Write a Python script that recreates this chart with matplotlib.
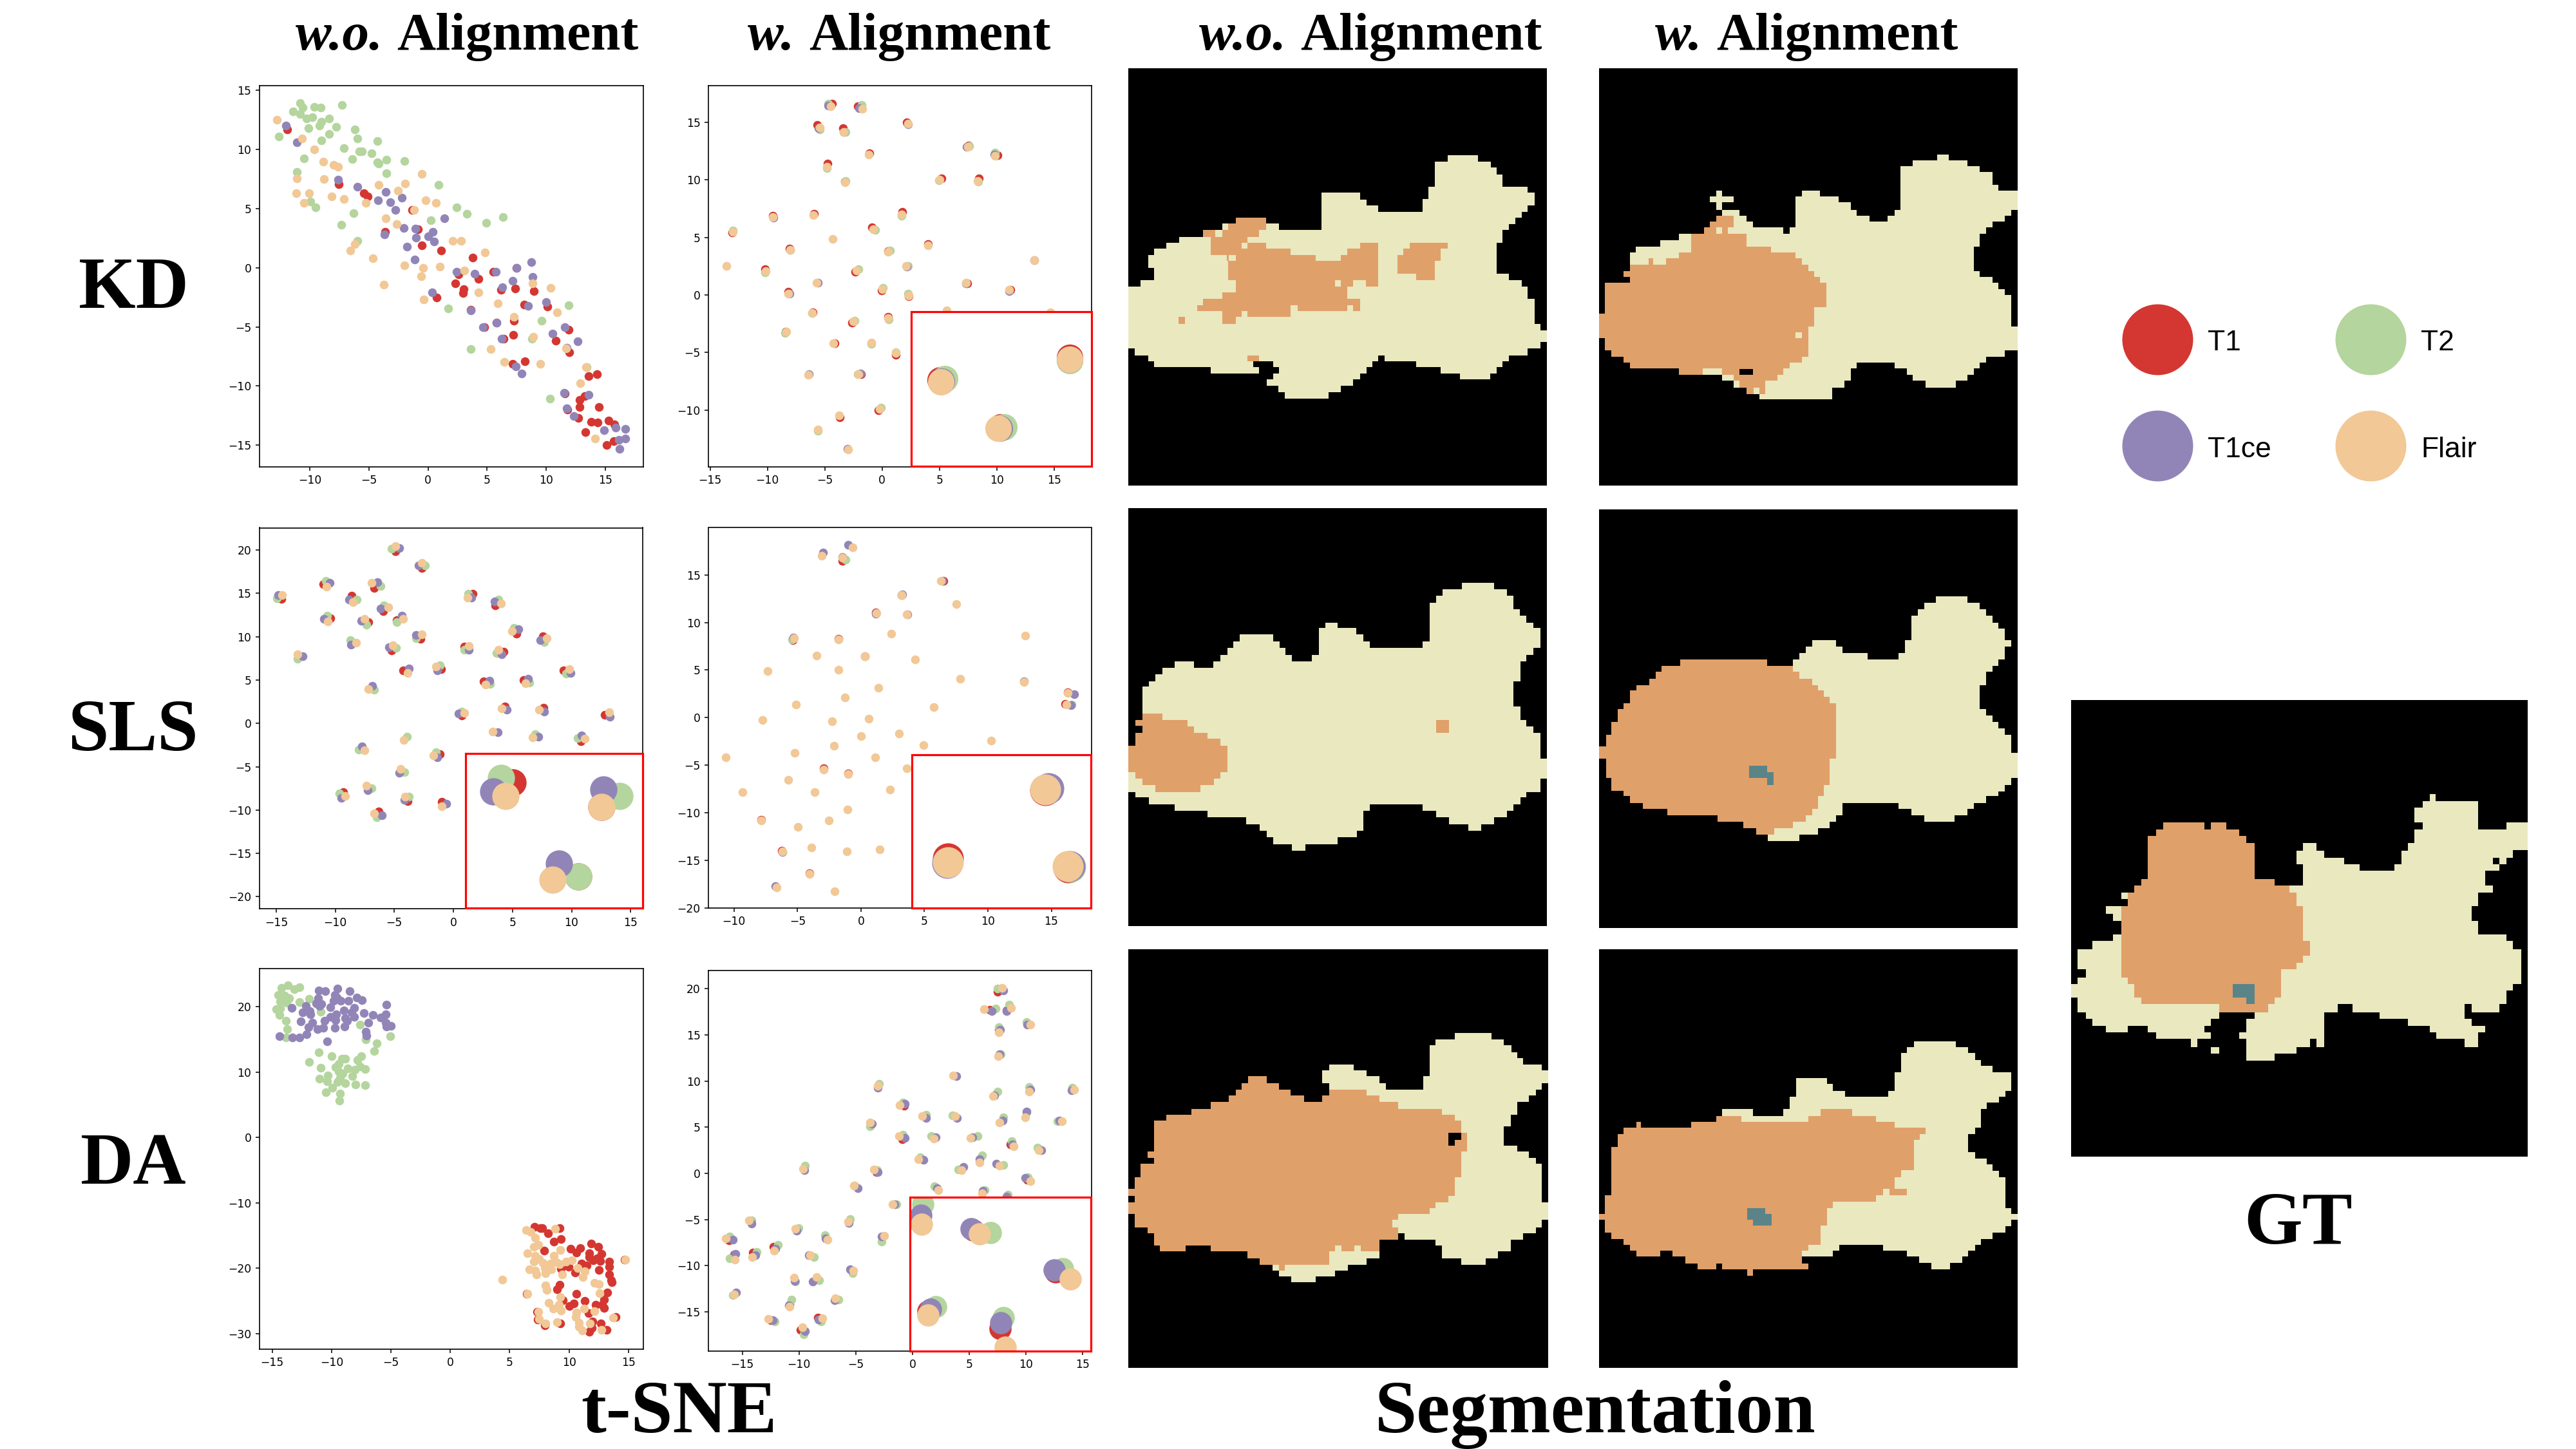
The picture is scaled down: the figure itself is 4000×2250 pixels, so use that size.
import matplotlib
matplotlib.use("Agg")
import matplotlib.pyplot as plt
import numpy as np
from matplotlib.patches import Rectangle

RED = "#D43731"
GREEN = "#B4D59D"
PURPLE = "#9185B8"
PEACH = "#F1C896"
LIGHT = "#EAE8BF"
ORANGE = "#E0A06A"
TEAL = "#5A8488"

modalities = ["T1", "T2", "T1ce", "Flair"]
modality_colors = [RED, GREEN, PURPLE, PEACH]
methods = ["KD", "SLS", "DA"]

# t-SNE, KD without alignment
kd_wo_t1 = [(-11.9,11.7),(-7.55,7.05),(-5.45,6.3),(-5.1,6.0),(-1.35,4.85),(-0.85,3.25),(-3.65,3.0),(-0.55,1.9),(1.1,1.45),(3.8,0.85),(2.6,-0.55),(5.55,-0.35),(7.5,0.0),(4.3,-0.95),(2.3,-1.35),(3.0,-1.8),(2.95,-2.15),(0.75,-2.5),(6.2,-1.85),(7.4,-1.75),(8.95,-2.0),(8.15,-3.1),(10.1,-3.3),(3.6,-3.55),(4.75,-5.05),(5.8,-4.65),(7.25,-4.5),(6.4,-6.0),(7.2,-5.65),(11.9,-5.25),(10.8,-6.15),(11.95,-7.15),(7.15,-8.1),(8.2,-7.9),(13.6,-9.15),(14.3,-9.0),(11.55,-10.65),(13.25,-10.85),(12.85,-11.15),(12.85,-11.75),(14.45,-11.75),(11.8,-12.0),(12.7,-12.7),(13.8,-13.0),(14.35,-13.1),(15.3,-12.9),(15.8,-13.25),(13.3,-13.9),(15.7,-14.65),(15.1,-15.0)]
kd_wo_t2 = [(-10.8,13.9),(-11.4,13.2),(-10.8,13.0),(-10.6,13.5),(-9.6,13.6),(-9.1,13.5),(-7.3,13.75),(-10.3,12.6),(-9.8,12.7),(-8.4,12.6),(-9.0,12.3),(-9.2,12.0),(-10.1,11.8),(-7.8,11.9),(-8.4,11.3),(-9.0,10.75),(-12.6,11.05),(-6.2,11.7),(-6.0,10.9),(-4.3,10.7),(-7.1,10.1),(-5.8,9.8),(-5.6,9.8),(-4.8,9.65),(-10.5,9.2),(-6.4,9.15),(-3.5,9.1),(-4.3,8.9),(-4.2,8.8),(-2.0,9.0),(-11.1,8.1),(-3.5,8.0),(0.9,7.0),(-9.95,5.6),(-9.5,5.1),(-6.3,4.6),(2.4,5.1),(3.3,4.55),(6.35,4.3),(4.9,3.8),(0.25,4.0),(-7.35,3.65),(-6.0,2.25),(1.7,-3.45),(9.6,-4.5),(11.9,-3.2),(3.6,-6.85),(8.8,-6.0),(10.35,-11.05),(13.45,-8.4)]
kd_wo_t1ce = [(-12.0,12.0),(-11.1,10.6),(-7.6,7.45),(-5.95,6.85),(-3.6,6.4),(-4.25,5.7),(-3.2,5.55),(-2.2,5.9),(-2.75,4.9),(1.4,4.15),(-2.05,3.35),(-1.05,3.3),(0.4,3.0),(-3.7,2.8),(0.0,2.65),(-1.0,2.55),(0.5,2.2),(-1.8,1.8),(-1.15,0.7),(2.4,-0.35),(3.95,-0.5),(5.75,-0.35),(7.5,0.0),(8.75,0.45),(8.85,-0.8),(7.15,-1.1),(6.3,-1.65),(0.35,-2.1),(3.6,-3.6),(8.45,-3.25),(10.0,-2.9),(4.65,-5.05),(5.8,-4.65),(6.25,-6.0),(11.6,-5.0),(10.55,-5.55),(12.65,-6.2),(11.75,-6.75),(7.45,-8.35),(7.95,-8.95),(11.5,-10.55),(13.6,-10.75),(11.75,-11.9),(12.35,-12.55),(14.9,-13.7),(15.9,-13.5),(16.7,-13.6),(16.7,-14.45),(16.15,-14.55),(16.2,-15.3)]
kd_wo_flair = [(-12.8,12.5),(-10.65,10.9),(-9.65,10.0),(-8.85,8.95),(-8.0,8.7),(-7.6,8.5),(-8.8,7.5),(-11.1,7.55),(-11.15,6.3),(-10.05,6.3),(-10.5,5.45),(-8.15,6.0),(-7.1,5.8),(-5.25,5.45),(-4.2,7.0),(-2.55,6.5),(-1.95,7.1),(-0.5,7.9),(-0.2,5.7),(0.65,5.45),(-1.2,4.85),(-3.55,4.15),(-2.65,3.7),(-6.2,2.0),(-6.55,1.45),(-4.65,0.8),(-3.75,-1.45),(-2.0,0.2),(-0.4,0.0),(1.0,0.1),(-0.6,-0.75),(-0.35,-2.7),(2.1,2.25),(2.8,2.25),(4.8,1.3),(3.05,-0.25),(4.25,-2.1),(5.9,-3.0),(8.85,-1.3),(10.4,-1.7),(10.9,-3.8),(7.25,-4.15),(8.9,-5.85),(5.3,-6.85),(6.45,-7.95),(9.5,-8.1),(11.7,-6.8),(13.4,-8.4),(12.9,-9.75),(14.15,-14.45)]

# t-SNE, KD with alignment (points fully under Flair are left out)
kd_w_t1 = [(-4.37,16.6),(-2.12,16.4),(-5.65,14.76),(-3.42,14.46),(2.17,15.0),(7.53,12.98),(10.06,12.12),(-1.11,12.28),(-4.77,11.43),(5.17,10.1),(8.43,10.1),(-3.25,9.84),(-9.53,6.85),(-5.96,7.02),(1.74,7.19),(-13.05,5.4),(-0.89,5.86),(4.02,4.4),(-8.08,4.04),(0.49,3.78),(-10.2,2.25),(-2.32,2.0),(7.43,0.98),(-0.04,0.38),(11.21,0.46),(-8.18,0.26),(2.34,-0.13),(-6.03,-1.51),(-2.64,-2.38),(0.54,-1.9),(-8.43,-3.16),(-4.12,-4.2),(1.19,-5.22),(-1.87,-6.85),(-0.31,-9.98),(-3.7,-10.6)]
kd_w_t2 = [(-4.7,16.62),(-1.77,16.48),(-5.45,14.37),(-3.2,14.15),(7.6,12.91),(9.86,12.36),(-4.8,11.02),(4.97,9.97),(8.36,9.82),(-3.2,9.88),(1.72,6.85),(-13.02,5.59),(-0.61,5.64),(0.69,3.85),(-2.07,2.25),(2.24,2.54),(-10.19,1.94),(0.09,0.62),(2.27,0.09),(-6.13,-1.56),(-2.42,-2.22),(0.59,-2.12),(-8.46,-3.28),(-0.94,-4.25),(1.19,-5.0),(-2.12,-6.9),(-0.11,-9.76),(-5.6,-11.8)]
kd_w_t1ce = [(-4.72,16.45),(-2.02,16.19),(-5.53,14.47),(-3.35,14.13),(2.27,14.81),(7.38,12.84),(9.76,12.21),(-9.49,6.71),(-8.01,3.92),(-5.63,1.04),(-8.08,0.09),(2.17,2.47),(7.31,1.03),(11.09,0.36),(-1.92,-6.8),(-6.4,-6.9),(-3.0,-13.37),(13.25,3.02)]
kd_w_flair = [(-4.47,16.38),(-1.74,16.16),(-5.45,14.56),(-3.35,14.15),(2.27,14.88),(7.48,12.87),(9.81,12.05),(-1.17,12.18),(-4.8,11.12),(5.03,9.99),(8.33,9.92),(-3.22,9.76),(-9.51,6.78),(-5.98,6.95),(1.72,6.99),(-13.0,5.47),(-0.76,5.71),(-4.32,4.84),(4.0,4.33),(-8.03,3.94),(0.54,3.75),(13.25,3.0),(-13.6,2.49),(-10.16,2.05),(-2.22,2.1),(2.07,2.49),(-5.7,1.06),(7.31,1.06),(0.0,0.5),(11.09,0.43),(-8.18,0.14),(2.29,-0.03),(-6.1,-1.56),(-2.54,-2.29),(0.54,-2.0),(-8.38,-3.21),(-4.25,-4.18),(-0.94,-4.16),(1.19,-5.05),(-6.43,-6.95),(-2.04,-6.9),(-0.21,-9.88),(-3.75,-10.46),(-5.58,-11.7),(-2.97,-13.4),(5.65,-1.32),(14.65,-1.51)]
kd_w_inset_t1 = [(5.07,-7.38),(10.34,-11.46),(16.33,-5.44)]
kd_w_inset_t2 = [(5.48,-7.26),(10.61,-11.46),(16.33,-5.68)]
kd_w_inset_t1ce = [(5.18,-7.5),(10.24,-11.55),(16.33,-5.6)]
kd_w_inset_flair = [(5.1,-7.55),(10.09,-11.58),(16.33,-5.61)]

# t-SNE, SLS without alignment
sls_wo_t1 = [(-4.89,19.87),(-2.65,17.91),(-11.03,16.04),(-6.7,15.65),(-14.54,14.4),(-8.6,14.72),(1.63,14.98),(3.53,13.59),(-5.92,12.95),(-10.4,12.11),(-7.18,11.69),(-4.82,11.92),(5.33,10.37),(-2.78,9.76),(7.57,10.08),(-5.23,8.44),(0.9,8.89),(4.24,8.28),(-4.24,6.12),(-1.02,6.25),(9.33,6.15),(2.58,4.86),(5.92,5.02),(0.73,0.9),(4.36,1.96),(7.65,1.84),(12.81,1.0),(10.79,-2.03),(-1.17,-3.57),(-9.33,-7.95),(-3.85,-8.95),(-1.0,-9.02),(-6.31,-10.18)]
sls_wo_t2 = [(-5.21,20.19),(-2.39,18.26),(-10.81,16.46),(-6.18,15.85),(-14.93,14.43),(-8.16,14.33),(1.27,14.98),(3.82,14.33),(-5.89,13.59),(-10.71,12.43),(-7.35,11.43),(-4.8,11.72),(5.11,11.05),(-3.14,9.85),(7.67,9.4),(-8.72,9.6),(-4.85,8.73),(0.93,8.47),(3.65,8.12),(-13.17,7.47),(-1.14,6.7),(9.52,5.73),(3.12,4.54),(6.43,4.73),(-6.7,3.9),(0.71,1.38),(6.92,-1.26),(10.49,-1.67),(-3.94,-1.55),(-7.99,-3.03),(-1.46,-3.35),(-4.14,-5.64),(-6.94,-7.5),(-9.67,-8.08),(-3.77,-8.47),(-6.48,-10.82)]
sls_wo_t1ce = [(-4.6,20.26),(-2.95,18.2),(-10.47,16.23),(-6.43,16.33),(-14.85,14.85),(-8.86,14.3),(1.53,14.49),(3.46,14.04),(-6.18,13.27),(-10.98,12.08),(-7.79,11.82),(-4.36,12.4),(5.5,10.89),(-3.14,10.21),(7.33,9.6),(-8.69,9.08),(-5.43,8.82),(1.31,8.5),(4.07,7.95),(-12.76,7.73),(-3.77,6.31),(-1.34,6.15),(9.93,5.83),(3.04,4.93),(6.31,5.12),(-6.89,4.35),(0.44,1.16),(4.53,1.58),(7.69,1.35),(13.22,0.77),(3.75,-1.03),(7.18,-1.55),(10.84,-1.42),(-7.72,-2.67),(-1.36,-3.9),(-4.6,-5.7),(-7.28,-7.7),(-9.47,-8.57),(-4.16,-8.82),(-0.61,-9.24),(-6.06,-10.6)]
sls_wo_flair = [(-4.92,20.48),(-2.65,18.52),(-10.74,15.78),(-6.94,16.2),(-14.49,14.81),(-8.5,14.01),(1.19,14.52),(4.02,13.82),(-5.5,13.43),(-10.64,11.76),(-7.55,12.08),(-4.26,12.08),(4.94,10.66),(-2.68,10.27),(7.91,9.82),(-8.23,9.31),(-5.11,9.05),(1.31,8.92),(3.82,8.47),(-13.22,7.99),(-3.85,5.8),(-1.46,6.57),(9.79,6.25),(2.7,4.51),(6.09,4.64),(-7.21,3.99),(0.93,1.19),(4.07,1.71),(7.26,1.58),(13.17,1.29),(3.31,-0.97),(6.72,-1.61),(11.1,-1.74),(-4.21,-1.93),(-7.5,-3.09),(-1.68,-3.7),(-4.5,-5.28),(-7.35,-7.15),(-9.18,-8.41),(-4.11,-8.47),(-0.97,-9.53),(-6.7,-10.4)]
sls_wo_inset_t1 = [(4.99,-6.8),(12.52,-9.66),(10.59,-17.65)]
sls_wo_inset_t2 = [(4.02,-6.31),(14.07,-8.34),(10.59,-17.65)]
sls_wo_inset_t1ce = [(3.36,-7.89),(12.69,-7.6),(8.96,-16.2)]
sls_wo_inset_flair = [(4.43,-8.41),(12.52,-9.66),(8.4,-18.07)]

# t-SNE, SLS with alignment (points fully under Flair are left out)
sls_w_t1 = [(-1.49,16.49),(-5.36,8.15),(6.49,14.37),(3.18,12.91),(1.19,11.06),(-1.78,8.27),(16.29,2.67),(16.11,1.47),(-7.85,-10.71),(-6.22,-13.99),(-4.07,-16.34),(-2.95,-5.34),(-1.03,-5.87)]
sls_w_t2 = [(-1.19,16.63),(-5.4,8.24),(16.58,1.35)]
sls_w_t1ce = [(-1.01,18.13),(-3.0,17.34),(-1.49,16.87),(-5.34,8.42),(6.42,14.37),(3.27,12.97),(3.68,10.85),(1.19,10.91),(16.81,2.49),(16.54,1.32),(-6.74,-17.72),(-6.17,-14.14),(0.33,6.48),(12.83,3.81)]
sls_w_flair = [(-0.65,17.92),(-3.07,17.04),(-1.46,16.78),(6.28,14.34),(3.18,12.91),(7.53,11.94),(1.21,10.97),(3.63,10.85),(-5.29,8.36),(-1.76,8.18),(2.41,8.83),(12.92,8.65),(-3.52,6.51),(0.33,6.42),(4.29,6.1),(-7.37,4.87),(-1.78,5.05),(7.8,4.08),(12.83,3.73),(1.39,3.17),(-1.24,2.11),(-5.11,1.35),(5.72,1.14),(16.29,2.58),(16.18,1.38),(-7.76,-0.26),(-2.26,-0.41),(0.6,-0.09),(3.0,-1.64),(0.0,-1.94),(-2.14,-2.96),(4.95,-2.87),(10.24,-2.38),(-5.22,-3.67),(1.1,-4.14),(-10.66,-4.17),(-2.93,-5.43),(-1.03,-5.95),(3.63,-5.34),(-5.72,-6.54),(-9.32,-7.83),(-3.66,-7.83),(2.3,-7.57),(-1.06,-9.62),(-7.85,-10.79),(-2.53,-10.82),(-4.95,-11.47),(-6.17,-14.05),(-3.91,-13.67),(-1.1,-14.08),(1.5,-13.87),(-4.07,-16.43),(-6.65,-17.86),(-2.05,-18.22)]
sls_w_inset_t1 = [(14.54,-7.63),(6.85,-14.78),(16.36,-15.72)]
sls_w_inset_t2 = [(16.49,-15.69)]
sls_w_inset_t1ce = [(14.77,-7.42),(6.8,-15.25),(16.45,-15.58)]
sls_w_inset_flair = [(14.5,-7.54),(6.85,-15.22),(16.27,-15.63)]

# t-SNE, DA without alignment
da_wo_t1 = [(7.11,-13.71),(7.59,-13.83),(7.76,-13.88),(9.21,-13.88),(8.24,-14.69),(9.29,-15.5),(8.73,-15.93),(11.85,-16.23),(12.48,-16.74),(10.11,-17.04),(10.96,-16.95),(7.88,-17.29),(10.62,-17.59),(11.68,-17.68),(12.75,-17.76),(11.71,-18.27),(12.0,-18.79),(12.36,-18.45),(13.38,-19.0),(12.63,-18.92),(11.03,-19.3),(11.51,-19.56),(13.4,-19.73),(9.99,-19.73),(9.33,-20.07),(12.53,-20.28),(10.52,-20.67),(13.38,-20.92),(13.57,-21.86),(13.6,-22.12),(9.21,-22.5),(8.97,-23.19),(13.21,-23.74),(10.62,-23.91),(6.43,-23.91),(9.46,-24.85),(11.34,-24.98),(12.94,-24.81),(10.42,-25.41),(10.01,-25.79),(12.26,-25.53),(12.8,-25.53),(12.97,-26.09),(7.32,-26.69),(11.63,-26.9),(13.91,-27.46),(7.35,-27.88),(11.95,-28.1),(7.95,-28.69),(9.26,-28.44),(12.68,-28.39),(13.16,-29.38),(11.93,-29.12),(11.68,-29.72),(14.69,-18.66)]
da_wo_t2 = [(-14.2,22.89),(-13.67,23.23),(-13.14,22.63),(-12.68,22.97),(-14.47,21.78),(-13.96,21.69),(-13.6,21.26),(-14.32,20.84),(-13.79,20.62),(-12.72,20.75),(-11.9,21.18),(-14.64,19.6),(-14.32,19.73),(-14.4,18.74),(-13.84,17.85),(-13.72,16.57),(-13.86,15.24),(-10.93,19.26),(-7.59,17.25),(-7.11,14.99),(-5.07,15.5),(-6.19,14.39),(-6.4,13.19),(-11.08,13.02),(-9.99,12.43),(-9.12,12.08),(-8.87,12.04),(-7.49,12.47),(-7.83,11.87),(-11.9,11.53),(-9.41,11.27),(-10.91,10.67),(-9.67,10.8),(-7.62,10.89),(-8.63,10.59),(-7.2,10.42),(-8.05,10.33),(-9.38,10.03),(-9.07,9.74),(-10.3,9.52),(-8.24,9.39),(-9.31,9.09),(-11.0,8.97),(-10.4,8.63),(-9.48,8.45),(-8.87,8.33),(-8.0,8.11),(-7.18,8.03),(-9.94,7.6),(-10.47,6.96),(-9.29,6.75),(-9.34,5.68)]
da_wo_t1ce = [(-11.1,22.46),(-10.54,22.33),(-9.48,22.72),(-8.49,22.37),(-11.15,21.26),(-9.75,21.78),(-9.55,21.35),(-9.21,20.92),(-8.56,20.92),(-7.88,21.35),(-7.42,21.01),(-11.32,20.5),(-10.88,20.41),(-11.05,20.07),(-9.84,20.92),(-5.41,20.32),(-13.38,19.81),(-12.17,20.07),(-10.08,19.9),(-8.1,19.77),(-8.97,19.47),(-12.41,19.13),(-11.83,19.34),(-8.29,19.13),(-7.3,19.0),(-6.53,18.7),(-5.44,18.83),(-11.78,18.87),(-9.63,18.79),(-10.08,18.45),(-8.1,18.45),(-8.83,18.27),(-5.87,18.36),(-10.59,17.89),(-12.6,17.72),(-9.67,17.93),(-11.61,17.51),(-8.68,17.81),(-6.89,17.51),(-5.44,17.59),(-11.97,16.82),(-11.2,16.61),(-10.69,16.74),(-9.7,16.78),(-8.92,16.99),(-7.13,16.14),(-5.0,17.04),(-5.39,16.95),(-12.09,15.8),(-7.08,15.54),(-12.68,15.24),(-13.33,15.29),(-14.39,15.5),(-10.35,14.65)]
da_wo_flair = [(6.38,-14.18),(6.77,-14.43),(8.85,-13.96),(7.13,-15.33),(7.4,-16.4),(7.01,-16.74),(9.24,-17.25),(6.48,-17.68),(7.15,-18.06),(7.47,-18.57),(8.7,-18.06),(7.01,-18.96),(10.25,-18.79),(9.77,-19.0),(8.92,-19.04),(7.81,-19.21),(8.44,-19.3),(9.21,-19.34),(10.71,-19.98),(6.65,-20.2),(7.15,-20.32),(7.95,-19.98),(8.49,-20.15),(8.03,-20.71),(7.23,-20.92),(9.43,-20.97),(11.32,-20.5),(11.15,-21.35),(4.39,-21.78),(12.12,-22.25),(12.53,-22.42),(8.0,-22.63),(8.12,-23.36),(12.55,-23.83),(6.48,-23.91),(9.24,-24.42),(8.27,-25.32),(9.16,-25.62),(8.66,-26.17),(9.33,-26.43),(11.27,-26.17),(12.12,-26.6),(10.62,-26.77),(7.42,-26.69),(10.57,-27.41),(7.49,-27.71),(13.72,-27.58),(10.84,-28.31),(11.76,-28.39),(8.03,-28.48),(8.97,-28.22),(10.84,-28.91),(11.13,-29.55),(12.75,-29.46),(14.76,-18.66)]

# t-SNE, DA with alignment
da_w_t1 = [(7.52,19.69),(6.79,17.7),(8.26,17.61),(7.6,15.52),(-0.76,7.31),(-0.89,3.71),(8.64,3.14),(-3.17,0.12),(10.08,-0.69),(-16.16,-7.28),(-14.06,-8.55),(-12.24,-7.97),(-15.73,-8.79),(-10.84,-14.19),(-12.47,-15.92),(-8.36,-15.64),(-9.86,-16.97)]
da_w_t2 = [(7.5,19.99),(7.3,17.88),(8.49,18.3),(10.06,16.4),(7.63,15.83),(7.8,12.87),(-2.94,9.69),(7.52,8.88),(10.26,9.33),(14.09,9.24),(-0.86,7.7),(1.19,6.37),(3.52,6.25),(10.03,6.61),(8.01,6.1),(12.77,5.62),(-3.72,5.1),(-0.86,4.17),(1.65,4.02),(5.73,4.05),(8.72,3.5),(11.02,2.78),(0.71,1.72),(6.11,1.93),(4.05,0.42),(8.01,0.88),(-9.5,0.82),(-3.12,0.33),(10.16,-0.39),(-5.12,-1.33),(1.93,-1.39),(6.36,-1.81),(8.41,-2.27),(-1.44,-3.32),(-5.5,-4.95),(-14.19,-5.07),(-10.03,-5.92),(-7.7,-6.67),(-2.71,-7.37),(-16.11,-6.83),(-13.73,-8.52),(-11.88,-7.73),(-16.11,-9.21),(-8.66,-9.09),(-5.27,-10.78),(-10.34,-11.72),(-8.23,-11.57),(-10.67,-13.65),(-6.51,-13.68),(-15.83,-13.2),(-12.16,-16.01),(-8.06,-16.04),(-9.6,-17.4)]
da_w_t1ce = [(7.98,19.78),(6.99,17.58),(8.31,17.55),(10.13,16.1),(7.7,15.52),(7.68,12.9),(3.88,10.54),(-3.07,9.3),(7.22,8.43),(10.36,9.09),(14.04,8.97),(-0.66,7.52),(1.22,6.01),(3.9,6.01),(10.06,6.7),(7.93,5.71),(12.92,5.71),(-3.55,5.38),(-0.66,3.84),(2.05,3.87),(5.27,3.9),(8.79,3.17),(11.33,2.48),(0.94,1.45),(5.88,1.51),(4.51,0.69),(7.4,1.03),(-9.55,0.36),(-3.07,0.12),(9.91,-0.51),(-4.84,-1.57),(2.15,-1.6),(6.21,-1.9),(8.31,-2.51),(-1.6,-3.38),(-5.62,-5.38),(-14.16,-5.41),(-10.24,-6.22),(-7.65,-7.01),(-2.71,-6.86),(-15.81,-7.19),(-13.86,-8.88),(-12.09,-8.18),(-15.61,-8.7),(-9.15,-8.82),(-5.52,-10.36),(-10.36,-11.66),(-8.82,-11.69),(-10.87,-14.26),(-6.89,-13.71),(-15.56,-12.9),(-12.31,-15.92),(-8.31,-15.83),(-9.45,-17.09)]
da_w_flair = [(7.9,20.05),(6.31,17.76),(8.69,17.94),(10.36,16.13),(7.58,15.28),(7.55,12.68),(3.57,10.63),(-3.07,9.45),(7.12,8.37),(10.26,8.82),(14.24,9.06),(-1.11,7.4),(0.84,6.19),(3.75,6.19),(9.96,6.04),(7.65,5.53),(13.17,5.68),(-3.75,5.5),(-1.17,4.02),(1.85,3.75),(5.12,3.84),(8.92,2.93),(11.12,2.54),(0.51,1.54),(5.9,1.18),(4.31,0.36),(7.68,0.82),(-9.65,0.51),(-3.39,0.42),(10.39,-0.85),(-5.14,-1.33),(2.25,-1.78),(6.11,-2.14),(-1.75,-3.32),(-5.65,-5.26),(-14.42,-5.07),(-10.31,-6.01),(-7.47,-7.19),(-2.48,-6.74),(-16.47,-7.04),(-14.11,-9.03),(-12.19,-8.37),(-15.68,-9.33),(-9.02,-8.88),(-5.24,-10.51),(-10.46,-11.27),(-8.46,-11.24),(-10.82,-14.44),(-6.79,-13.5),(-15.71,-13.11),(-12.74,-15.74),(-7.96,-15.67),(-9.68,-16.67)]
da_w_inset_t1 = [(5.32,-6.16),(12.62,-10.69),(1.39,-14.89),(7.73,-16.79)]
da_w_inset_t2 = [(0.89,-3.35),(6.89,-6.4),(13.23,-10.3),(2.03,-14.41),(8.01,-15.64)]
da_w_inset_t1ce = [(0.76,-4.5),(5.19,-6.01),(12.47,-10.45),(1.6,-14.68),(7.75,-16.19)]
da_w_inset_flair = [(0.79,-5.53),(5.9,-6.52),(13.88,-11.45),(1.34,-15.37),(8.16,-18.85)]

# segmentation outlines: from each point go across to the next x, then to its y
kd_wo_body = [(14,818),(35,796),(58,752),(48,706),(58,684),(79,662),(101,641),(142,616),(175,594),(198,572),(250,594),(272,616),(345,483),(411,507),(422,529),(442,551),(518,505),(528,461),(539,371),(561,349),(613,371),(635,392),(645,418),(655,461),(698,483),(710,529),(698,551),(688,573),(677,595),(666,617),(655,662),(645,773),(666,795),(688,818),(698,864),(710,954),(720,976),(731,1018),(720,1040),(698,1066),(666,1087),(655,1108),(645,1130),(634,1151),(582,1130),(549,1108),(507,1087),(453,1066),(442,1087),(432,1108),(422,1130),(411,1152),(399,1175),(378,1197),(357,1220),(282,1197),(271,1175),(251,1152),(262,1130),(272,1108),(262,1087),(228,1108),(238,1130),(155,1108),(58,1087),(48,1066),(25,1040)]
kd_wo_lesion = [[(142,616),(163,641),(175,616),(185,594),(198,572),(250,616),(238,641),(218,662),(250,684),(292,706),(335,727),(378,706),(389,684),(411,662),(442,818),(421,796),(399,818),(389,864),(411,907),(399,885),(389,907),(304,885),(292,928),(218,907),(208,928),(198,954),(175,907),(132,885),(142,864),(175,839),(198,796),(185,727),(175,706),(155,641)],
                [(496,662),(561,684),(549,727),(539,796),(507,773),(475,706),(485,684)],
                [(100,928),(111,954)],[(218,1066),(238,1087)]]
kd_wo_light = [[(208,662),(218,684)],[(175,706),(183,727)],[(186,706),(198,727)],[(368,796),(378,818)]]

kd_w_body = [(820,916),(830,806),(873,785),(862,764),(873,696),(883,675),(925,654),(957,629),(1000,607),(1010,587),(1021,565),(1031,544),(1021,518),(1010,497),(1021,476),(1031,497),(1051,518),(1031,544),(1061,565),(1073,587),(1084,607),(1136,629),(1147,607),(1157,497),(1168,476),(1199,497),(1231,518),(1252,544),(1262,565),(1284,587),(1315,565),(1327,544),(1337,388),(1358,367),(1400,345),(1420,367),(1452,388),(1473,409),(1495,455),(1505,476),(1538,544),(1527,565),(1516,587),(1495,607),(1484,629),(1473,675),(1463,764),(1473,785),(1495,806),(1505,828),(1516,850),(1527,962),(1538,1047),(1516,1071),(1484,1092),(1473,1113),(1463,1136),(1452,1157),(1432,1182),(1380,1157),(1358,1136),(1348,1113),(1327,1092),(1262,1113),(1252,1157),(1241,1182),(1220,1224),(1095,1204),(1073,1182),(1051,1157),(1031,1136),(957,1113),(873,1092),(862,1071),(841,1047),(830,1003)]
kd_w_lesion = [[(820,916),(830,806),(873,785),(862,764),(873,740),(905,717),(913,740),(935,717),(957,696),(978,629),(1000,607),(1010,587),(1021,565),(1051,629),(1073,675),(1115,696),(1157,717),(1168,740),(1179,764),(1189,785),(1199,806),(1210,894),(1189,962),(1179,1071),(1168,1092),(1147,1113),(1136,1136),(1126,1157),(1105,1204),(1095,1182),(1085,1204),(1073,1182),(1061,1157),(1051,1136),(1031,1113),(998,1136),(957,1113),(873,1092),(862,1071),(841,1047),(830,1003)]]
kd_w_light = [[(1021,607),(1031,629)],[(1041,607),(1051,629)],[(1157,984),(1168,1003)]]
kd_w_holes = [[(1061,1114),(1084,1136)]]

sls_wo_body = [(14,870),(26,825),(38,800),(26,778),(38,660),(49,640),(60,616),(72,592),(93,569),(127,592),(160,569),(172,545),(184,521),(194,497),(205,473),(262,497),(273,521),(283,545),(294,569),(328,545),(340,450),(351,430),(373,450),(405,473),(417,497),(428,521),(518,497),(530,358),(541,334),(552,311),(585,287),(641,311),(663,334),(674,382),(685,406),(696,430),(708,450),(720,520),(708,545),(696,569),(686,640),(674,731),(686,778),(696,802),(708,826),(720,918),(731,988),(720,1037),(696,1056),(686,1080),(674,1104),(663,1128),(641,1152),(618,1176),(596,1152),(563,1128),(541,1104),(518,1080),(428,1104),(417,1176),(406,1199),(373,1223),(317,1247),(294,1223),(262,1199),(251,1176),(239,1152),(216,1128),(150,1104),(93,1080),(49,1056),(26,1037)]
sls_wo_lesion = [[(14,870),(26,825),(38,800),(26,778),(38,755),(72,778),(115,802),(127,826),(150,846),(172,870),(184,965),(172,988),(161,1012),(138,1037),(60,1012),(38,988),(26,965)],
                 [(541,778),(563,826)]]

sls_w_body = [(820,874),(832,833),(841,787),(852,741),(862,718),(873,673),(884,654),(906,631),(917,607),(927,585),(959,562),(1108,585),(1152,562),(1163,540),(1175,516),(1186,492),(1227,516),(1238,539),(1281,562),(1334,539),(1345,492),(1356,406),(1367,382),(1378,360),(1398,337),(1452,360),(1473,382),(1484,406),(1495,430),(1505,452),(1516,492),(1527,516),(1516,562),(1505,585),(1495,607),(1484,654),(1473,740),(1484,763),(1495,787),(1505,810),(1516,833),(1527,897),(1538,987),(1527,1011),(1516,1035),(1505,1052),(1484,1076),(1463,1098),(1452,1120),(1430,1143),(1378,1120),(1356,1098),(1334,1076),(1238,1120),(1227,1143),(1216,1166),(1196,1189),(1163,1212),(1109,1189),(1089,1166),(1067,1143),(1023,1120),(937,1098),(895,1076),(873,1052),(862,1033),(841,987),(832,918)]
sls_w_lesion = [[(820,874),(832,833),(841,787),(852,741),(862,718),(873,673),(884,654),(906,631),(917,607),(927,585),(959,562),(1108,585),(1152,607),(1163,631),(1186,654),(1196,673),(1206,696),(1216,718),(1227,918),(1216,1011),(1206,1052),(1196,1098),(1186,1120),(1175,1143),(1152,1166),(1120,1189),(1089,1166),(1067,1143),(1023,1120),(937,1098),(895,1076),(873,1052),(862,1033),(841,987),(832,918)]]
sls_w_core = [(1077,942),(1108,965),(1119,1011),(1108,987)]

da_wo_body = [(15,880),(26,837),(36,790),(59,768),(48,746),(59,634),(80,613),(123,592),(156,567),(187,545),(199,523),(209,501),(220,476),(252,501),(273,523),(293,545),(316,567),(347,545),(359,501),(347,454),(359,433),(400,454),(423,476),(444,501),(456,523),(519,476),(530,365),(540,343),(573,321),(636,343),(657,365),(670,390),(680,411),(690,433),(722,454),(733,501),(722,523),(712,545),(700,567),(680,613),(669,656),(657,725),(680,746),(700,768),(712,790),(722,928),(733,990),(722,1017),(712,1038),(690,1060),(669,1103),(647,1129),(626,1150),(584,1129),(551,1081),(540,1060),(487,1038),(476,1060),(444,1129),(423,1150),(390,1172),(369,1193),(336,1214),(294,1193),(273,1172),(262,1150),(240,1129),(219,1103),(156,1081),(113,1103),(69,1081),(59,1038),(48,1017),(26,968),(15,928),(26,905)]
da_wo_lesion = [[(15,880),(26,837),(36,790),(59,768),(48,746),(59,634),(80,613),(123,592),(156,567),(187,545),(199,523),(209,501),(220,476),(252,501),(273,523),(293,545),(316,567),(347,545),(359,523),(423,545),(444,567),(476,592),(551,613),(573,634),(584,678),(594,746),(584,837),(573,905),(562,928),(540,948),(530,968),(476,990),(466,1017),(476,1060),(444,1103),(412,1081),(401,1103),(380,1081),(369,1103),(359,1150),(283,1172),(273,1150),(240,1129),(219,1103),(156,1081),(113,1103),(69,1081),(59,1038),(48,1017),(26,968),(15,928),(26,905)]]
da_wo_holes = [[(562,678),(584,703),(573,725)]]

da_w_body = [(820,968),(830,901),(841,728),(852,682),(862,660),(884,639),(892,660),(978,639),(1021,618),(1031,592),(1084,618),(1136,592),(1147,550),(1158,483),(1211,504),(1221,528),(1242,550),(1316,528),(1327,461),(1338,393),(1348,372),(1360,350),(1432,372),(1453,393),(1465,418),(1475,439),(1495,461),(1527,528),(1517,550),(1506,571),(1485,592),(1475,660),(1465,682),(1453,748),(1465,770),(1485,792),(1495,814),(1506,837),(1517,948),(1527,968),(1538,990),(1527,1013),(1517,1036),(1495,1058),(1475,1079),(1465,1100),(1453,1120),(1443,1145),(1422,1168),(1390,1145),(1369,1120),(1348,1100),(1307,1079),(1232,1100),(1221,1120),(1168,1147),(1179,1168),(1084,1190),(1074,1168),(1031,1147),(1021,1168),(989,1147),(968,1120),(946,1100),(925,1120),(884,1100),(873,1079),(862,1058),(841,1036),(830,990)]
da_w_lesion = [[(820,968),(830,901),(841,728),(852,682),(862,660),(884,639),(892,660),(978,639),(1021,618),(1064,639),(1179,618),(1200,592),(1254,618),(1295,639),(1327,660),(1380,682),(1370,703),(1360,812),(1338,837),(1327,880),(1348,901),(1318,880),(1307,901),(1295,926),(1221,948),(1211,1011),(1200,1079),(1179,1100),(1168,1147),(1179,1168),(1084,1190),(1074,1168),(1031,1147),(1021,1168),(989,1147),(968,1120),(946,1100),(925,1120),(884,1100),(873,1079),(862,1058),(841,1036),(830,990)]]
da_w_core = [(1074,948),(1105,969),(1116,1011),(1084,990)]

gt_body = [(54,957),(75,936),(101,909),(75,844),(123,817),(188,795),(214,751),(188,730),(166,704),(236,682),(214,660),(257,638),(279,616),(300,477),(326,455),(348,433),(481,455),(502,433),(550,455),(593,477),(615,499),(641,616),(706,638),(796,569),(775,525),(796,499),(839,525),(864,547),(929,569),(977,590),(1089,569),(1111,525),(1133,499),(1154,455),(1180,433),(1154,385),(1180,363),(1202,341),(1222,363),(1357,455),(1447,433),(1516,523),(1469,547),(1447,569),(1425,590),(1379,638),(1404,660),(1357,704),(1336,751),(1357,795),(1447,817),(1469,844),(1495,957),(1469,978),(1447,1022),(1425,1048),(1336,1022),(1314,1070),(1336,1092),(1379,1113),(1357,1161),(1314,1135),(1223,1113),(1202,1092),(1133,1070),(1042,1048),(955,1022),(908,1048),(864,1161),(839,1135),(818,1161),(775,1183),(706,1205),(615,1135),(593,1113),(615,1070),(641,1048),(528,1070),(502,1092),(481,1113),(502,1135),(459,1161),(437,1135),(326,1113),(300,1092),(235,1113),(166,1092),(123,1070),(101,1048),(75,1000)]
gt_lesion = [[(214,704),(236,660),(257,638),(279,616),(300,477),(326,455),(348,433),(481,455),(502,433),(550,455),(593,477),(615,499),(641,616),(706,638),(753,660),(775,704),(796,817),(818,865),(796,887),(775,909),(727,1000),(706,1022),(684,1048),(528,1022),(279,1000),(257,957),(236,936)]]
gt_light = [[(502,1161),(528,1183)]]
gt_holes = [[(1404,547),(1425,569)]]
gt_core = [(571,957),(641,1022),(615,1000)]

fig = plt.figure(figsize=(40, 22.5), dpi=100)
W, H = 4000, 2250


def place_axes(x0, y0, x1, y1):
    return fig.add_axes([x0 / W, 1 - y1 / H, (x1 - x0) / W, (y1 - y0) / H])


def xy(points):
    arr = np.array(points)
    return arr[:, 0], arr[:, 1]


def stairs(points):
    xs, ys = [], []
    for i, (x, y) in enumerate(points):
        next_x = points[(i + 1) % len(points)][0]
        xs += [x, next_x]
        ys += [y, y]
    return xs, ys


def draw_tsne(bounds, xlim, ylim, xticks, yticks, series, inset=None, big_size=870):
    ax = place_axes(*bounds)
    for points, color in zip(series, modality_colors):
        ax.scatter(*xy(points), s=95, color=color, linewidths=0, zorder=2)
    ax.set_xticks(xticks)
    ax.set_yticks(yticks)
    ax.set_xlim(*xlim)
    ax.set_ylim(*ylim)
    ax.tick_params(labelsize=12.3, length=4.5, width=1.1, pad=4.5)
    for spine in ax.spines.values():
        spine.set_linewidth(1.2)
    if inset is not None:
        box, big_series = inset
        x0, x1, y0, y1 = box
        back = Rectangle((x0, y0), x1 - x0, y1 - y0, facecolor="white", edgecolor="none", zorder=3)
        ax.add_patch(back)
        for points, color in zip(big_series, modality_colors):
            sc = ax.scatter(*xy(points), s=big_size, color=color, linewidths=0, zorder=4)
            sc.set_clip_path(back)
        ax.add_patch(Rectangle((x0, y0), x1 - x0, y1 - y0, fill=False, edgecolor="#FF0000",
                               linewidth=2.3, zorder=5, clip_on=False))
    return ax


def draw_seg(bounds, xlim, ylim, body, lesion, core=None, light=(), holes=()):
    ax = place_axes(*bounds)
    ax.set_facecolor("black")
    ax.fill(*stairs(body), color=LIGHT, linewidth=0)
    for part in lesion:
        ax.fill(*stairs(part), color=ORANGE, linewidth=0)
    for part in light:
        ax.fill(*stairs(part), color=LIGHT, linewidth=0)
    for part in holes:
        ax.fill(*stairs(part), color="black", linewidth=0)
    if core is not None:
        ax.fill(*stairs(core), color=TEAL, linewidth=0)
    ax.set_xlim(*xlim)
    ax.set_ylim(*ylim)
    ax.set_xticks([])
    ax.set_yticks([])
    for spine in ax.spines.values():
        spine.set_visible(False)
    return ax


tick5 = [-15, -10, -5, 0, 5, 10, 15]

draw_tsne((403, 132.5, 998.5, 724.5), (-14.26, 18.2), (-16.8, 15.4), tick5, tick5,
          [kd_wo_t1, kd_wo_t2, kd_wo_t1ce, kd_wo_flair])
draw_tsne((1100, 132.5, 1695, 724.5), (-15.15, 18.26), (-14.9, 18.2), tick5, tick5,
          [kd_w_t1, kd_w_t2, kd_w_t1ce, kd_w_flair],
          inset=((2.54, 18.26, -14.85, -1.46),
                 [kd_w_inset_t1, kd_w_inset_t2, kd_w_inset_t1ce, kd_w_inset_flair]), big_size=880)
draw_tsne((403, 819.5, 998, 1411), (-16.41, 16.02), (-21.38, 22.58), tick5, [-20, -15, -10, -5, 0, 5, 10, 15, 20],
          [sls_wo_t1, sls_wo_t2, sls_wo_t1ce, sls_wo_flair],
          inset=((1.02, 16.02, -21.29, -3.48),
                 [sls_wo_inset_t1, sls_wo_inset_t2, sls_wo_inset_t1ce, sls_wo_inset_flair]), big_size=930)
draw_tsne((1100, 819.5, 1695, 1410), (-12.02, 18.17), (-20.0, 19.95), tick5, [-20, -15, -10, -5, 0, 5, 10, 15],
          [sls_w_t1, sls_w_t2, sls_w_t1ce, sls_w_flair],
          inset=((4.02, 18.12, -20.0, -3.87),
                 [sls_w_inset_t1, sls_w_inset_t2, sls_w_inset_t1ce, sls_w_inset_flair]), big_size=1200)
draw_tsne((403, 1503.5, 998.5, 2094.5), (-16.07, 16.23), (-32.32, 25.87), tick5, [-30, -20, -10, 0, 10, 20],
          [da_wo_t1, da_wo_t2, da_wo_t1ce, da_wo_flair])
draw_tsne((1100, 1507, 1695, 2098), (-17.99, 15.78), (-19.24, 21.96), tick5, [-15, -10, -5, 0, 5, 10, 15, 20],
          [da_w_t1, da_w_t2, da_w_t1ce, da_w_flair],
          inset=((-0.23, 15.73, -19.21, -2.6),
                 [da_w_inset_t1, da_w_inset_t2, da_w_inset_t1ce, da_w_inset_flair]), big_size=620)

draw_seg((1752, 106, 2402, 754), (14, 731), (1532, 37), kd_wo_body, kd_wo_lesion, light=kd_wo_light)
draw_seg((2483, 106, 3133, 754), (820, 1538), (1532, 37), kd_w_body, kd_w_lesion, light=kd_w_light, holes=kd_w_holes)
draw_seg((1752, 789, 2402, 1438), (14, 731), (1517, 20), sls_wo_body, sls_wo_lesion)
draw_seg((2483, 791, 3133, 1441), (820, 1538), (1524, 25), sls_w_body, sls_w_lesion, core=sls_w_core)
draw_seg((1752, 1474, 2404, 2124), (15, 733), (1520, 21), da_wo_body, da_wo_lesion, holes=da_wo_holes)
draw_seg((2483, 1474, 3133, 2124), (820, 1538), (1520, 21), da_w_body, da_w_lesion, core=da_w_core)
draw_seg((3216, 1087, 3925, 1796), (54, 1516), (1516, 36), gt_body, gt_lesion, core=gt_core,
         light=gt_light, holes=gt_holes)

# overlay for text and the legend, in picture pixels
over = fig.add_axes([0, 0, 1, 1], facecolor="none")
over.set_xlim(0, W)
over.set_ylim(H, 0)
over.axis("off")

serif = {"family": "Liberation Serif", "weight": "bold", "color": "black", "ha": "center", "va": "center"}
for x, prefix in zip([459, 1161, 1862, 2570], ["w.o.", "w.", "w.o.", "w."]):
    first = over.text(x, 95, prefix, fontsize=60, family="Liberation Serif", weight="bold",
                      style="italic", ha="left", va="bottom")
    over.annotate("Alignment", xy=(1, 0), xycoords=first, xytext=(15.5, 0), textcoords="offset points",
                  fontsize=60, family="Liberation Serif", weight="bold", ha="left", va="bottom")
for y, name in zip([450, 1137, 1810], methods):
    over.text(207, y, name, fontsize=82, **serif)
over.text(1054, 2196, "t-SNE", fontsize=84, **serif)
over.text(2477, 2196, "Segmentation", fontsize=84.5, **serif)
over.text(3569, 1903, "GT", fontsize=84, **serif)

legend_x = [3350, 3350, 3681, 3681]
legend_y = [527, 692, 527, 692]
for x, y, name, color in zip(legend_x, legend_y, ["T1", "T1ce", "T2", "Flair"], [RED, PURPLE, GREEN, PEACH]):
    over.scatter([x], [y], s=6270, color=color, linewidths=0)
    over.text(x + 78, y + 6, name, fontsize=32, family="Liberation Sans", ha="left", va="center")

fig.savefig("out.png", dpi=100, facecolor="white")
